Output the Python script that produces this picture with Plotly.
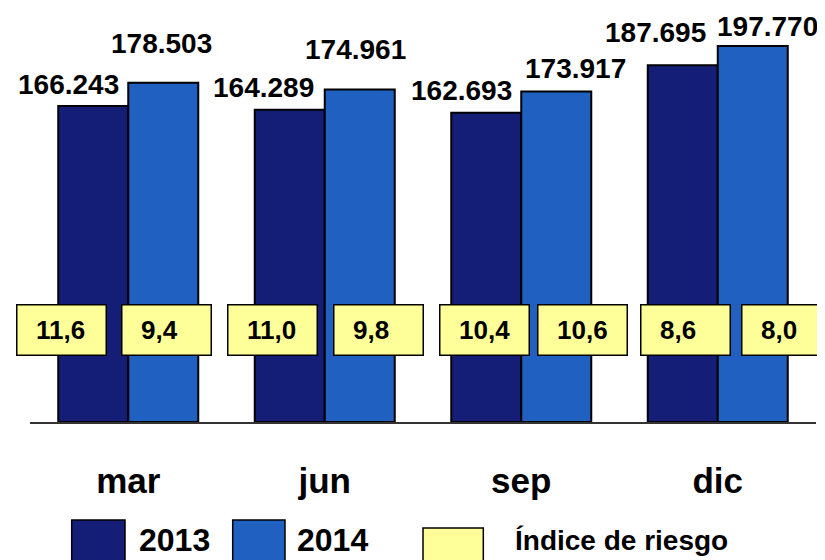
import plotly.graph_objects as go

# ---------------- data ----------------
months = ["mar", "jun", "sep", "dic"]
values_2013 = [166243, 164289, 162693, 187695]
values_2014 = [178503, 174961, 173917, 197770]
risk_2013 = [11.6, 11.0, 10.4, 8.6]
risk_2014 = [9.4, 9.8, 10.6, 8.0]
series_names = ["2013", "2014"]
risk_name = "Índice de riesgo"

# ---------------- styling / layout ----------------
OFF = 8                      # page body margin of the html page
W, H = 825 - OFF, 560 - OFF
ML, MR, MT, MB = 22, 9, 2, 138
PLOT_W = W - ML - MR
PLOT_H = H - MT - MB
PX_PER_UNIT = 0.001901
Y_MAX = PLOT_H / PX_PER_UNIT
BARGAP = 0.2875
HALF = (1 - BARGAP) / 4  # offset of each bar centre from category centre

C2013 = "#151E77"
C2014 = "#2060C0"
CYEL = "#FFFF99"
NARROW = "Liberation Sans Narrow, Arial Narrow, Liberation Sans, sans-serif"
REG = "Liberation Sans, Arial, sans-serif"

# pixel nudges of the hand-placed labels (relative to bar centre / bar top)
label_dx = [[-25, -26, -25, -27], [-2, -4, 19, 15]]
label_dy = [[21, 22, 22, 33], [39, 40, 23, 20]]
box_dx = [[-32, -17, -2, 3], [3, 19, 26, 34]]
BOX_W, BOX_H = 91, 52
BOX_CY = 330  # page-pixel centre of risk boxes


def fmt_thousands(v):
    return f"{v:,}".replace(",", ".")


def fmt_dec(v):
    return f"{v:.1f}".replace(".", ",")


def px2x(px):
    return (px - OFF - ML) / PLOT_W


def px2y(py):
    return (H - MB - (py - OFF)) / PLOT_H


xs = list(range(len(months)))
fig = go.Figure()
for name, vals, col in [(series_names[0], values_2013, C2013), (series_names[1], values_2014, C2014)]:
    fig.add_trace(go.Bar(
        x=xs, y=vals, name=name, marker=dict(color=col, line=dict(color="black", width=2)),
        showlegend=False, hoverinfo="skip",
    ))

annotations = []
shapes = []
for s, (vals, risks) in enumerate([(values_2013, risk_2013), (values_2014, risk_2014)]):
    sign = -1 if s == 0 else 1
    for i, (v, r) in enumerate(zip(vals, risks)):
        xc = i + sign * HALF
        annotations.append(dict(
            x=xc, y=v, xref="x", yref="y", text=fmt_thousands(v), showarrow=False,
            xanchor="center", yanchor="middle", xshift=label_dx[s][i], yshift=label_dy[s][i],
            font=dict(family=REG, size=28, color="black", weight="bold"),
        ))
        # risk box
        annotations.append(dict(
            x=xc, y=px2y(BOX_CY), xref="x", yref="paper", text=" ", showarrow=False,
            xanchor="center", yanchor="middle", xshift=box_dx[s][i],
            width=BOX_W - 5, height=BOX_H - 5, bgcolor=CYEL, bordercolor="black",
            borderwidth=1.5, borderpad=1, font=dict(size=10),
        ))
        annotations.append(dict(
            x=xc, y=px2y(BOX_CY), xref="x", yref="paper", text=fmt_dec(r), showarrow=False,
            xanchor="left", yanchor="middle", xshift=box_dx[s][i] - BOX_W / 2 + 18,
            font=dict(family=NARROW, size=26, color="black", weight="bold"),
        ))

# custom legend (page pixel positions)
legend_items = [
    (series_names[0], C2013, 71.7, 125, 520, 136.7, 32),
    (series_names[1], C2014, 232.7, 285, 520, 295, 32),
    (risk_name, CYEL, 423, 483.3, 528, 513, 28),
]
for text, col, x0, x1, ytop, tx, fs in legend_items:
    shapes.append(dict(
        type="rect", xref="paper", yref="paper", x0=px2x(x0), x1=px2x(x1),
        y0=px2y(ytop), y1=px2y(575), fillcolor=col, line=dict(color="black", width=1.5),
        layer="above",
    ))
    annotations.append(dict(
        x=px2x(tx), y=px2y(540), xref="paper", yref="paper", text=text, showarrow=False,
        xanchor="left", yanchor="middle",
        font=dict(family=NARROW, size=fs, color="black", weight="bold"),
    ))

fig.update_layout(
    width=W, height=H, margin=dict(l=ML, r=MR, t=MT, b=MB),
    paper_bgcolor="white", plot_bgcolor="white",
    barmode="group", bargap=BARGAP, bargroupgap=0,
    showlegend=False,
    annotations=annotations, shapes=shapes,
    xaxis=dict(
        range=[-0.5, len(months) - 0.5], tickvals=xs, ticktext=months,
        showgrid=False, zeroline=False, showline=True, linecolor="#333333", linewidth=1.5,
        ticks="", ticklabelstandoff=27, automargin=False,
        tickfont=dict(family=NARROW, size=35, color="black", weight="bold"),
    ),
    yaxis=dict(range=[0, Y_MAX], visible=False, showgrid=False, zeroline=False),
)

fig.write_html("out.html")
